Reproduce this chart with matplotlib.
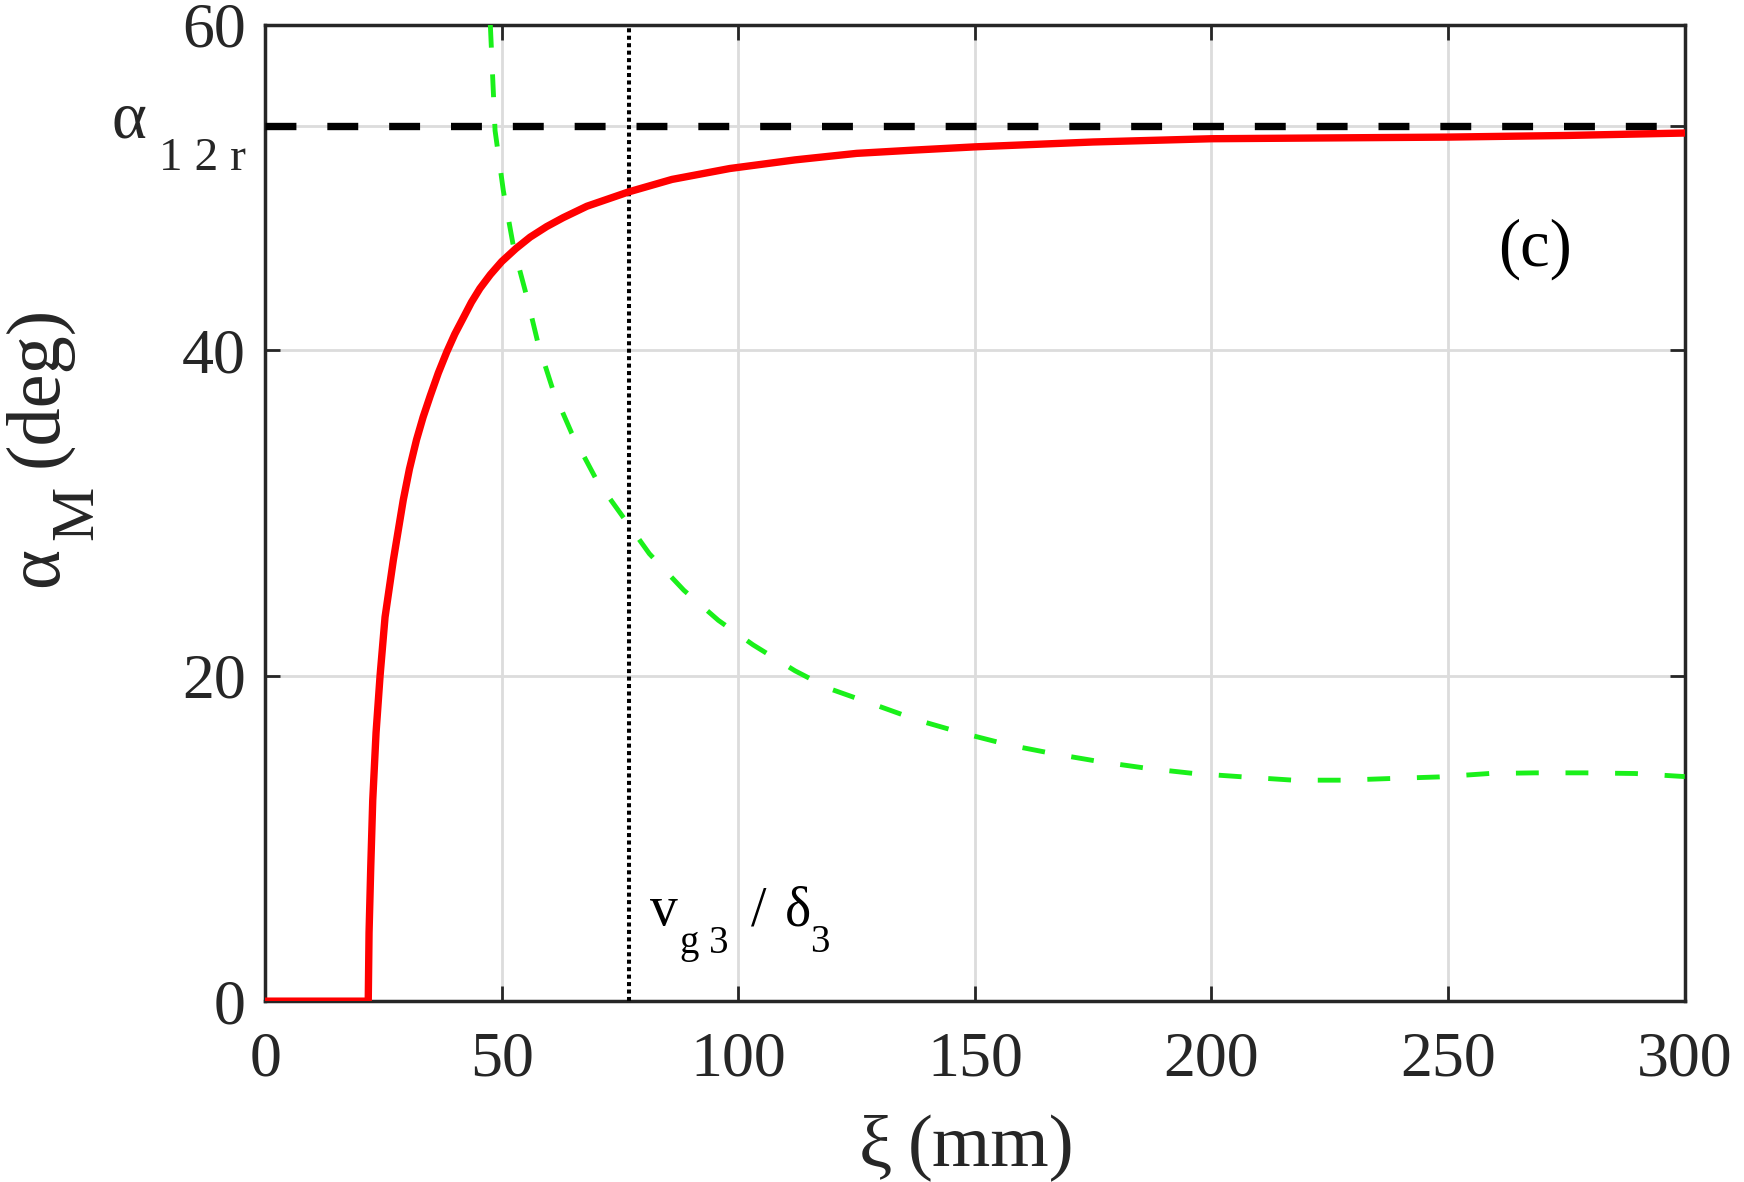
import matplotlib
matplotlib.use("Agg")
import matplotlib.pyplot as plt

plt.rcParams["font.family"] = ["Liberation Serif", "DejaVu Serif"]

# red curve: alpha_M vs xi
xi_red = [0, 21.8, 21.97, 22.33, 22.75, 23.45, 24.3, 25.35, 27.1, 29.2, 30.5, 32.0,
          33.4, 34.9, 36.6, 38.4, 40.1, 41.9, 43.6, 45.4, 47.6, 50.0, 53.0, 56.0,
          59.5, 63.0, 68.0, 76.8, 86.0, 98.2, 112, 125, 137, 150, 175, 200, 225,
          250, 275, 300]
alpha_red = [0, 0, 4.2, 8.25, 12.35, 16.5, 20.0, 23.6, 27.1, 30.8, 32.7, 34.5,
             35.9, 37.2, 38.6, 39.9, 41.0, 42.0, 42.95, 43.8, 44.65, 45.45, 46.25,
             46.95, 47.6, 48.15, 48.85, 49.73, 50.5, 51.17, 51.7, 52.1, 52.3, 52.5,
             52.8, 53.0, 53.05, 53.1, 53.2, 53.35]

# green dashed curve
xi_green = [47.6, 48.6, 50.35, 52.5, 55.3, 57.7, 60.9, 64.8, 70.1, 76.4, 81.2, 88.5,
            95.8, 103.1, 112.0, 119.3, 129.0, 137.9, 147.7, 157.4, 167.1, 176.8,
            186.6, 196.3, 206.8, 217.3, 227.9, 237.6, 248.1, 258.7, 268.4, 278.9,
            289.5, 300]
alpha_green = [60, 53.5, 49.8, 46.35, 43.3, 40.4, 37.5, 34.9, 32.0, 29.45, 27.5, 25.25,
               23.4, 21.9, 20.3, 19.2, 18.2, 17.27, 16.45, 15.73, 15.18, 14.7,
               14.3, 13.99, 13.78, 13.58, 13.58, 13.68, 13.78, 13.99, 14.03, 14.03,
               13.99, 13.8]

alpha_12r = 53.8
xi_vg = 76.8

yticks = [0, 20, 40, alpha_12r, 60]
ytick_labels = ["0", "20", "40", "", "60"]
xticks = [0, 50, 100, 150, 200, 250, 300]

fig = plt.figure(figsize=(17.44, 11.82), dpi=100)
ax = fig.add_axes([0.152, 0.153, 0.814, 0.826])

ax.grid(True, color="#dcdcdc", linewidth=2)
ax.set_axisbelow(True)

ax.axhline(alpha_12r, color="black", linewidth=5.3, dashes=(4.2, 4.2), zorder=3)
ax.axvline(xi_vg, color="black", linewidth=2.9, dashes=(1, 0.85), zorder=3)
ax.plot(xi_green, alpha_green, color="#1af01a", linewidth=3.5, dashes=(4.7, 5.5), zorder=4)
ax.plot(xi_red, alpha_red, color="#ff0000", linewidth=5.3, zorder=5)

ax.set_xlim(0, 300)
ax.set_ylim(0, 60)
ax.set_xticks(xticks)
ax.set_yticks(yticks)
ax.set_yticklabels(ytick_labels)

ax.tick_params(direction="in", length=11, width=2, colors="#262626",
               labelsize=46, top=True, right=True)
ax.tick_params(axis="x", pad=22)
ax.tick_params(axis="y", pad=14)
for s in ax.spines.values():
    s.set_linewidth(2.5)
    s.set_color("#262626")

tc = "#262626"
# alpha_{1 2 r} tick label (MATLAB style subscript)
ax.text(-0.1083, 0.8848, "α", transform=ax.transAxes, fontsize=48, color=tc,
        ha="left", va="baseline")
ax.text(-0.0137, 0.851, "1 2 r", transform=ax.transAxes, fontsize=34, color=tc,
        ha="right", va="baseline")

# y label: alpha_M (deg)
ax.text(-0.1468, 0.424, "α", transform=ax.transAxes, fontsize=55, color=tc,
        rotation=90, rotation_mode="anchor", ha="left", va="baseline")
ax.text(-0.1220, 0.472, "M", transform=ax.transAxes, fontsize=44, color=tc,
        rotation=90, rotation_mode="anchor", ha="left", va="baseline")
ax.text(-0.1468, 0.547, "(deg)", transform=ax.transAxes, fontsize=55, color=tc,
        rotation=90, rotation_mode="anchor", ha="left", va="baseline")

# x label: xi (mm)
ax.text(0.4183, -0.169, "ξ", transform=ax.transAxes, fontsize=54, color=tc,
        ha="left", va="baseline")
ax.text(0.4528, -0.169, "(mm)", transform=ax.transAxes, fontsize=54, color=tc,
        ha="left", va="baseline")

# panel tag
ax.text(268.3, 45.2, "(c)", fontsize=48, ha="center", va="baseline", color="black")

# v_{g 3} / delta_3 annotation
ax.text(81.3, 4.67, "v", fontsize=40, ha="left", va="baseline", color="black")
ax.text(87.7, 2.95, "g 3", fontsize=28, ha="left", va="baseline", color="black")
ax.text(102.7, 4.67, "/", fontsize=40, ha="left", va="baseline", color="black")
ax.text(109.9, 4.67, "δ", fontsize=40, ha="left", va="baseline", color="black")
ax.text(115.1, 3.0, "3", fontsize=28, ha="left", va="baseline", color="black")

fig.savefig("out.png", dpi=100)
